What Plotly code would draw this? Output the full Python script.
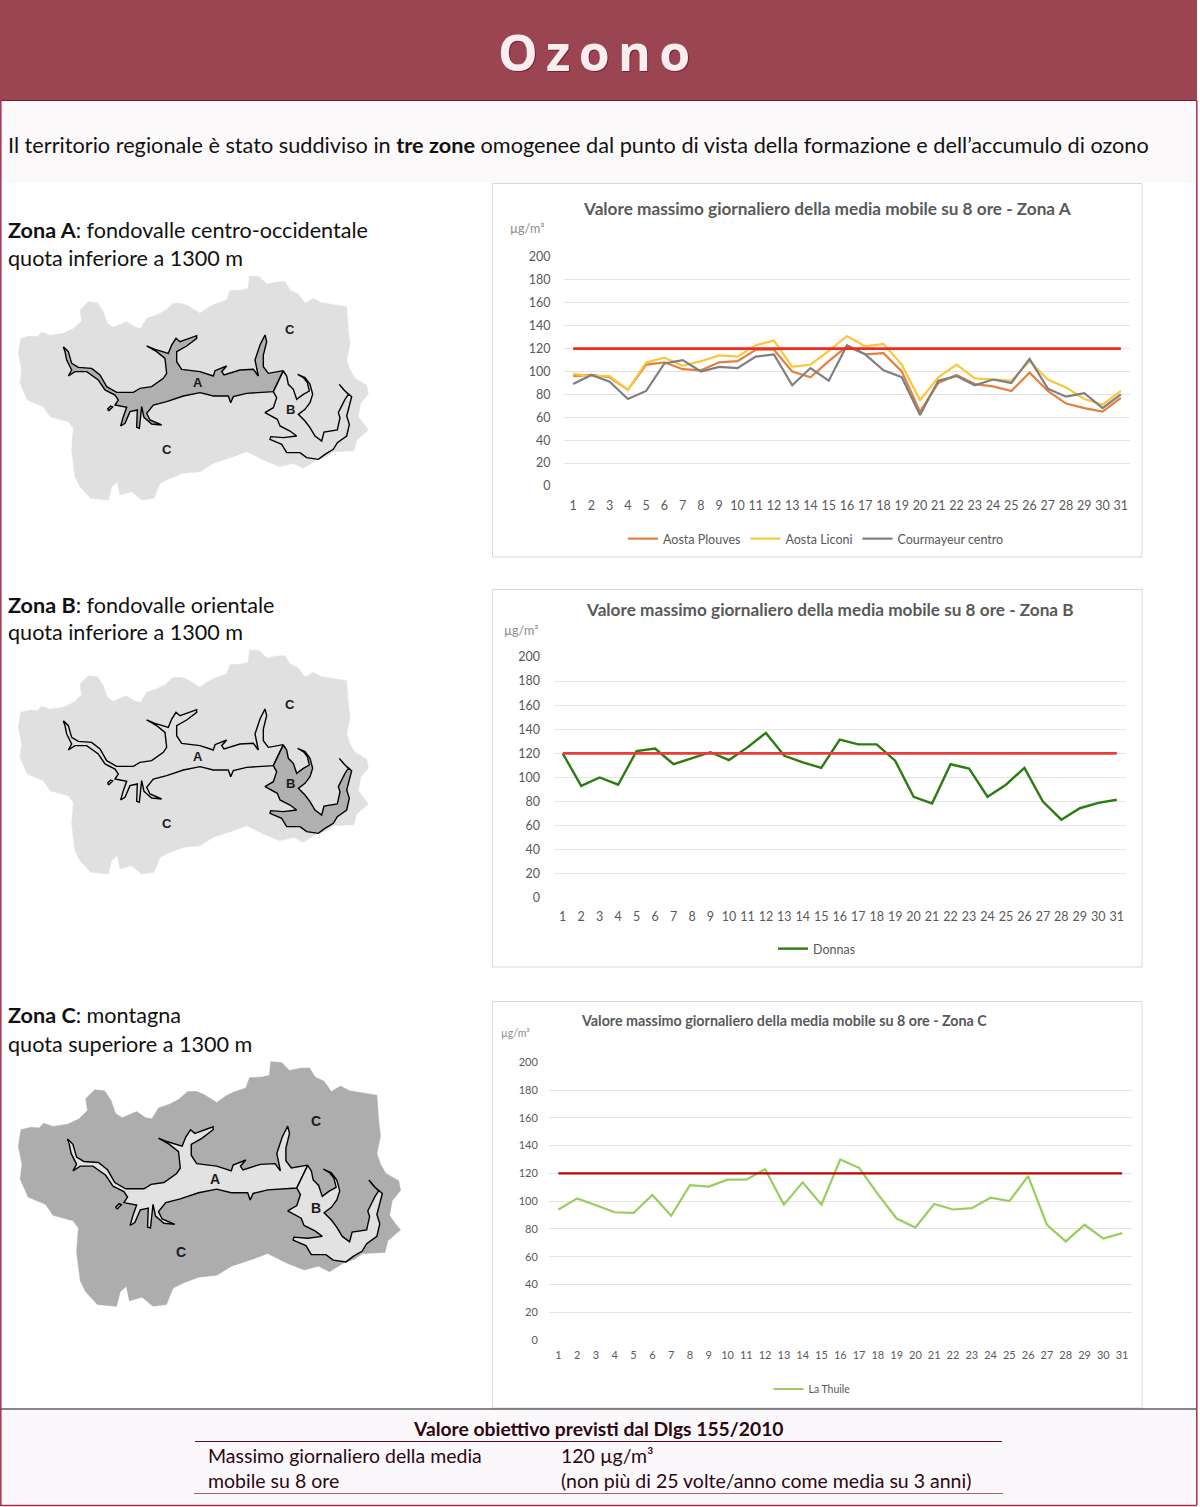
import plotly.graph_objects as go

# ---------- data ----------
days = [1,2,3,4,5,6,7,8,9,10,11,12,13,14,15,16,17,18,19,20,21,22,23,24,25,26,27,28,29,30,31]
y_ticks = [0,20,40,60,80,100,120,140,160,180,200]
threshold = [120]*31
aosta_plouves = [96,97,95,84,106,108,102,101,108,109,119,119,100,95,109,122,115,116,100,65,90,97,89,87,83,99,83,72,68,65,77]
aosta_liconi = [98,96,96,84,108,112,105,109,114,113,123,127,104,106,118,131,122,124,106,75,95,106,94,93,92,109,93,86,76,71,83]
courmayeur = [89,97,91,76,83,107,110,100,104,103,113,115,88,103,92,123,115,101,95,62,92,96,88,93,90,111,85,78,81,68,80]
donnas = [120,93,100,94,122,124,111,116,121,114.5,125,137,118,112.5,108,131.5,127.5,127.5,114,84,78.5,111,107.5,84,94,108,80,65,74.5,79,81.5]
la_thuile = [94,102,97,92,91.5,104.5,89.5,111.5,110.5,115.5,115.5,123,97.5,113.5,97.5,130,124,105,87.5,81,98,94,95,102.5,100,118,83,71,83,73,77]

# map outlines (hand traced, units: thirds of a pixel of the first map)
region = [(55,250),(62,205),(90,198),(112,200),(125,187),(150,196),(190,190),(222,175),(245,152),(240,120),(265,95),(292,98),(310,125),(322,160),(340,172),(380,155),(405,172),(422,175),(440,145),(470,135),(495,122),(520,100),(545,100),(565,108),(600,130),(625,112),(645,102),(680,90),(690,62),(725,60),(745,55),(748,18),(778,20),(800,42),(830,36),(855,35),(870,60),(895,72),(915,100),(940,85),(965,98),(990,102),(1040,110),(1045,180),(1050,222),(1040,270),(1050,300),(1065,325),(1100,345),(1105,372),(1082,400),(1075,440),(1090,462),(1105,480),(1070,510),(1062,542),(1000,545),(980,560),(950,570),(910,595),(880,580),(840,590),(810,578),(790,570),(740,545),(700,560),(640,580),(600,605),(550,610),(510,625),(480,640),(462,685),(425,690),(395,665),(360,675),(352,635),(335,650),(325,690),(272,685),(240,650),(225,620),(215,540),(220,475),(205,455),(150,440),(130,410),(82,390),(60,340),(65,300)]
valley_a = [(190,230),(205,245),(215,280),(235,292),(275,295),(300,315),(320,350),(350,367),(400,367),(420,355),(455,350),(490,325),(500,310),(495,265),(470,245),(440,228),(465,238),(505,250),(515,225),(528,205),(540,215),(590,197),(590,205),(560,228),(530,245),(530,275),(545,298),(600,305),(640,318),(645,302),(680,288),(665,305),(672,315),(720,300),(760,298),(775,318),(765,270),(780,225),(795,195),(800,215),(790,255),(790,290),(805,310),(850,302),(820,365),(740,370),(700,380),(692,398),(685,378),(640,378),(600,368),(550,378),(500,395),(460,405),(440,430),(450,450),(485,465),(455,462),(432,442),(425,410),(418,475),(410,472),(412,420),(390,425),(375,460),(362,468),(370,440),(380,412),(345,405),(355,390),(345,375),(315,360),(295,330),(260,305),(225,305),(205,318),(215,300),(200,270),(195,245)]
valley_b = [(850,303),(860,318),(865,343),(880,358),(890,388),(910,373),(928,363),(922,338),(910,323),(893,313),(915,323),(930,343),(938,373),(930,398),(915,418),(895,433),(915,453),(930,473),(945,498),(965,513),(972,486),(1012,480),(1020,443),(1015,428),(1035,388),(1045,373),(1030,358),(1018,343),(1035,363),(1055,380),(1048,408),(1040,438),(1048,463),(1040,498),(1012,518),(1000,538),(975,553),(955,568),(920,563),(900,548),(860,548),(845,523),(810,508),(812,500),(850,503),(890,498),(870,483),(840,468),(832,448),(795,428),(820,413),(830,383),(820,365)]
islet = [(322,418),(332,408),(338,411),(327,422)]

# ---------- helpers ----------
W, H = 1200, 1507
def px(x): return x / W
def py(y): return 1 - y / H
def rect(x0, y0, x1, y1, fill=None, line=None, lw=1):
    return dict(type="rect", xref="paper", yref="paper", layer="below",
                x0=px(x0), x1=px(x1), y0=py(y0), y1=py(y1),
                fillcolor=fill or "rgba(0,0,0,0)",
                line=dict(color=line or "rgba(0,0,0,0)", width=lw if line else 0))
def hline(x0, x1, y, color, w=1):
    return dict(type="line", xref="paper", yref="paper", x0=px(x0), x1=px(x1), y0=py(y), y1=py(y),
                line=dict(color=color, width=w))
def vline(x, y0, y1, color, w=1):
    return dict(type="line", xref="paper", yref="paper", x0=px(x), x1=px(x), y0=py(y0), y1=py(y1),
                line=dict(color=color, width=w))
FONT = "Lato, 'Open Sans', sans-serif"
def txt(x, y, s, size, color="#111111", anchor="left", family=FONT, **kw):
    if anchor == "left":
        x -= 2.2
    return dict(xref="paper", yref="paper", x=px(x), y=py(y), text=s, showarrow=False,
                xanchor=anchor, yanchor="middle", align=anchor,
                font=dict(size=size, color=color, family=family, **kw))

fig = go.Figure()

# ---------- maps ----------
def project(points, ox, oy, kx, ky):
    return ([ox + kx * (u / 3 - 18.3) for u, v in points] + [ox + kx * (points[0][0] / 3 - 18.3)],
            [oy + ky * (270 + v / 3 - 276) for u, v in points] + [oy + ky * (270 + points[0][1] / 3 - 276)])
def draw_map(ox, oy, k, base, fill_a, fill_b):
    for pts, fill, line in [(region, base, None), (valley_a, fill_a, "#000000"),
                            (valley_b, fill_b, "#000000"), (islet, fill_a, "#000000")]:
        xs, ys = project(pts, ox, oy, k, k)
        fig.add_trace(go.Scatter(x=xs, y=ys, xaxis="x4", yaxis="y4", mode="lines", fill="toself",
                                 fillcolor=fill, hoverinfo="skip", showlegend=False,
                                 line=dict(color=line or base, width=1.4 if line else 0.5)))
LIGHT, DARK = "#e0e0e0", "#b0b0b0"
draw_map(18.3, 276, 1.0, LIGHT, DARK, LIGHT)
draw_map(18.3, 650, 1.0, LIGHT, LIGHT, DARK)
draw_map(18.3, 1061.7, 1.092, "#adadad", "#e2e2e2", "#e2e2e2")

# ---------- charts ----------
def add_series(name, values, color, width, axis, legend, show=True):
    fig.add_trace(go.Scatter(x=days, y=values, name=name, mode="lines", xaxis="x" + axis, yaxis="y" + axis,
                             line=dict(color=color, width=width), showlegend=show, legend=legend,
                             hovertemplate="%{x}: %{y}<extra>" + name + "</extra>"))
add_series("Aosta Plouves", aosta_plouves, "#e2803f", 2.2, "", "legend")
add_series("Aosta Liconi", aosta_liconi, "#fac73c", 2.2, "", "legend")
add_series("Courmayeur centro", courmayeur, "#7f7f7f", 2.2, "", "legend")
add_series("Valore obiettivo", threshold, "#ef2a1e", 2.6, "", "legend", False)
add_series("Donnas", donnas, "#2b7d12", 2.4, "2", "legend2")
add_series("Valore obiettivo", threshold, "#ea3d3a", 2.6, "2", "legend2", False)
add_series("La Thuile", la_thuile, "#98cd5f", 2.2, "3", "legend3")
add_series("Valore obiettivo", threshold, "#c00000", 2.2, "3", "legend3", False)

TICK = "#595959"
def axes(x0, x1, ytop, ybot, size, xlen, ylen):
    xa = dict(domain=[px(x0), px(x1)], range=[0.5, 31.5], tickmode="array", tickvals=days,
              ticktext=[str(d) for d in days], showgrid=False, zeroline=False, showline=False,
              ticks="outside", ticklen=xlen, tickcolor="rgba(0,0,0,0)",
              tickfont=dict(size=size, color=TICK, family=FONT))
    ya = dict(domain=[py(ybot), py(ytop)], range=[0, 200], tickmode="array", tickvals=y_ticks,
              showgrid=True, gridcolor="#e3e3e3", gridwidth=1, zeroline=False, showline=False,
              ticks="outside", ticklen=ylen, tickcolor="rgba(0,0,0,0)",
              tickfont=dict(size=size, color=TICK, family=FONT))
    return xa, ya
xa1, ya1 = axes(564, 1130, 257, 486, 12.5, 8, 10)
xa2, ya2 = axes(553.5, 1126, 657, 898, 12.5, 7, 10)
xa3, ya3 = axes(549, 1131.5, 1062.3, 1340, 11, 5, 8)
ya1["anchor"] = "x"; xa1["anchor"] = "y"
ya2["anchor"] = "x2"; xa2["anchor"] = "y2"
ya3["anchor"] = "x3"; xa3["anchor"] = "y3"

def legend_at(xc, y, size):
    return dict(orientation="h", x=px(xc), y=py(y), xanchor="center", yanchor="middle",
                bgcolor="rgba(0,0,0,0)", font=dict(size=size, color=TICK, family=FONT),
                itemwidth=30, tracegroupgap=0, itemclick=False, itemdoubleclick=False)

shapes = [
    rect(0, 0, 1197, 100, fill="#9b4553"),
    rect(0, 101, 1197, 183, fill="#fcf9fb"),
    rect(0, 1410, 1197, 1505, fill="#fbf8fb"),
    rect(492.5, 183.5, 1142, 557, fill="#ffffff", line="#d9d9d9"),
    rect(492.5, 589.5, 1142, 967, fill="#ffffff", line="#d9d9d9"),
    rect(492.5, 1001.5, 1142, 1408, fill="#ffffff", line="#d9d9d9"),
    hline(0, 1197, 100.5, "#8a1430", 1),
    hline(0, 1197, 1409, "#111111", 1.2),
    hline(0, 1197, 1505.5, "#a8304c", 1.5),
    vline(0.8, 100, 1505, "#a8304c", 1.5),
    vline(1196.8, 100, 1505, "#a8304c", 1.5),
    hline(195, 1002, 1441.5, "#5a1020", 1.2),
    hline(194, 1003, 1493.5, "#a8606e", 1.2),
]

MAP_FONT = "'Liberation Sans', Arial, sans-serif"
def letter(x, y, s, size=13):
    return txt(x, y, s, size, color="#1a1a1a", anchor="center", family=MAP_FONT, weight="bold")

MAROON = "#2d0710"
BODY = 21.7
ZONE = 21.6
FOOT = 19.5
annotations = [
    txt(594, 52, "O\u2009z\u2009o\u2009n\u2009o", 50, color="#f8eef0", anchor="center",
        family="'Open Sans', sans-serif", weight="bold", shadow="1px 1px 0 #7d1f33"),
    txt(8, 145, "Il territorio regionale è stato suddiviso in <b>tre zone</b> omogenee dal punto di vista della formazione e dell’accumulo di ozono", BODY),
    txt(8, 230, "<b>Zona A</b>: fondovalle centro-occidentale", ZONE),
    txt(8, 258, "quota inferiore a 1300 m", ZONE),
    txt(8, 605, "<b>Zona B</b>: fondovalle orientale", ZONE),
    txt(8, 632, "quota inferiore a 1300 m", ZONE),
    txt(8, 1015, "<b>Zona C</b>: montagna", ZONE),
    txt(8, 1044, "quota superiore a 1300 m", ZONE),
    letter(198, 383, "A"), letter(290, 410, "B"), letter(290, 330, "C"), letter(167, 450, "C"),
    letter(198, 757, "A"), letter(290, 784, "B"), letter(290, 704, "C"), letter(167, 824, "C"),
    letter(215, 1179, "A", 14), letter(316, 1208, "B", 14), letter(316, 1121, "C", 14), letter(181, 1252, "C", 14),
    txt(828, 209, "<b>Valore massimo giornaliero della media mobile su 8 ore - Zona A</b>", 17.2, color=TICK, anchor="center"),
    txt(830, 609, "<b>Valore massimo giornaliero della media mobile su 8 ore - Zona B</b>", 17.2, color=TICK, anchor="center"),
    txt(784, 1021, "<b>Valore massimo giornaliero della media mobile su 8 ore - Zona C</b>", 14.3, color=TICK, anchor="center"),
    txt(510, 228, "µg/m³", 12.5, color="#8c8c8c"),
    txt(504, 630, "µg/m³", 12.5, color="#8c8c8c"),
    txt(501, 1033, "µg/m³", 10.5, color="#8c8c8c"),
    txt(598, 1428, "<b>Valore obiettivo previsti dal Dlgs 155/2010</b>", 19.3, color=MAROON, anchor="center"),
    txt(208, 1455, "Massimo giornaliero della media", FOOT, color=MAROON),
    txt(208, 1480, "mobile su 8 ore", FOOT, color=MAROON),
    txt(561, 1455, "120 µg/m³", FOOT, color=MAROON),
    txt(561, 1480, "(non più di 25 volte/anno come media su 3 anni)", FOOT, color=MAROON),
]

fig.update_layout(
    width=W, height=H, autosize=False, margin=dict(l=0, r=0, t=0, b=0, pad=0, autoexpand=False),
    paper_bgcolor="#ffffff", plot_bgcolor="rgba(0,0,0,0)", font=dict(family=FONT),
    xaxis=xa1, yaxis=ya1, xaxis2=xa2, yaxis2=ya2, xaxis3=xa3, yaxis3=ya3,
    xaxis4=dict(domain=[0, 1], range=[0, W], visible=False, fixedrange=True, anchor="y4"),
    yaxis4=dict(domain=[0, 1], range=[H, 0], visible=False, fixedrange=True, anchor="x4"),
    legend=legend_at(816, 539, 12.5), legend2=legend_at(817, 949, 12.5), legend3=legend_at(812, 1389, 10.5),
    shapes=shapes, annotations=annotations,
)
fig.write_html("out.html", config={"displayModeBar": False, "responsive": False},
               post_script="document.body.style.margin='0';")
